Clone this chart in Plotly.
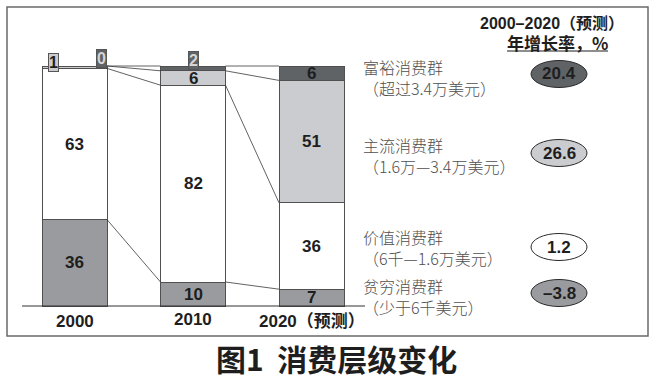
import plotly.graph_objects as go

# ---------------- data ----------------
years = ["2000", "2010", "2020（预测）"]
groups = ["贫穷消费群", "价值消费群", "主流消费群", "富裕消费群"]  # bottom -> top
group_ranges = ["（少于6千美元）", "（6千—1.6万美元）", "（1.6万—3.4万美元）", "（超过3.4万美元）"]
poor = [36, 10, 7]
value = [63, 82, 36]
mainstream = [1, 6, 51]
affluent = [0, 2, 6]
growth_labels = ["–3.8", "1.2", "26.6", "20.4"]
header1 = "2000–2020（预测）"
header2 = "年增长率，%"
title = "图1  消费层级变化"

series = [poor, value, mainstream, affluent]
colors = ["#9a9b9e", "#ffffff", "#cbcccf", "#5f6366"]

W, H = 652, 380
x_unit = 118.5
x_first = 74.5
x0 = -x_first / x_unit
x1 = x0 + W / x_unit
bw = 65 / x_unit
base_px = 306
y_unit = 2.4
y0 = -(H - base_px) / y_unit
y1 = base_px / y_unit


def px(x):
    return x / W


def py(y):
    return 1 - y / H


NUM_FONT = "Liberation Sans, Arial, Noto Sans CJK SC"
CJK_FONT = "Noto Sans CJK SC, Liberation Sans"


def ann(**kw):
    kw.setdefault("showarrow", False)
    kw.setdefault("xanchor", "center")
    kw.setdefault("yanchor", "middle")
    return kw


fig = go.Figure()
xs = list(range(len(years)))
for s, g, c in zip(series, groups, colors):
    fig.add_trace(go.Bar(
        x=xs, y=s, name=g, width=bw,
        marker=dict(color=c, line=dict(color="#505050", width=1)),
        hoverinfo="name+y", showlegend=False,
    ))

shapes = []
annotations = []

cums = []
run = [0] * len(years)
for s in series:
    run = [r + v for r, v in zip(run, s)]
    cums.append(list(run))

for k in range(len(series)):
    for i in range(len(years) - 1):
        shapes.append(dict(type="line", xref="x", yref="y",
                           x0=i + bw / 2, y0=cums[k][i],
                           x1=i + 1 - bw / 2, y1=cums[k][i + 1],
                           line=dict(color="#3a3a3a", width=0.8)))

for k, s in enumerate(series):
    for i, v in enumerate(s):
        below = cums[k][i] - v
        if v <= 2:
            # segment too thin for its label: boxed label at the bar top
            if i == 0 and k == 2:
                ax, ay = i - bw / 2 + 0.1, 101.3
            elif i == 0:
                ax, ay = i + bw / 2 - 0.045, 103.2
            else:
                ax, ay = i, 102.2
            annotations.append(ann(
                x=ax, y=ay, xref="x", yref="y", text=str(v),
                font=dict(family=NUM_FONT, size=16,
                          color="#1e1e1e" if k == 2 else "#d5d5d5", weight="bold"),
                bgcolor=colors[k], bordercolor="#555555", borderwidth=1, borderpad=0))
        else:
            annotations.append(ann(
                x=i, y=below + v / 2, xref="x", yref="y", text=str(v),
                font=dict(family=NUM_FONT, size=17, color="#1e1e1e", weight="bold")))

tick_y = [321, 319, 321]
for i, (yr, ty) in enumerate(zip(years, tick_y)):
    annotations.append(ann(x=i, y=py(ty), xref="x", yref="paper", text=yr,
                           font=dict(family=NUM_FONT, size=17, color="#1e1e1e", weight="bold")))

shapes.append(dict(type="line", xref="paper", yref="y", x0=px(22), x1=px(365), y0=0, y1=0,
                   line=dict(color="#333333", width=1.2)))

shapes.append(dict(type="rect", xref="paper", yref="paper", x0=px(7), x1=px(648), y0=py(336), y1=py(7),
                   line=dict(color="#6a6a6a", width=1.5)))

label_y = [296, 247, 155, 78]
ell_y = [293, 247, 153, 74]
for k in range(len(groups)):
    annotations.append(ann(x=px(361), y=py(label_y[k]), xref="paper", yref="paper", xanchor="left",
                           align="left", text=groups[k] + "<br>" + group_ranges[k],
                           font=dict(family=CJK_FONT, size=16, color="#505050", weight=300)))
    cy = ell_y[k]
    shapes.append(dict(type="circle", xref="paper", yref="paper",
                       x0=px(531), x1=px(587), y0=py(cy + 13.5), y1=py(cy - 13.5),
                       fillcolor=colors[k], line=dict(color="#2a2a2a", width=1)))
    annotations.append(ann(x=px(559), y=py(cy), xref="paper", yref="paper", text=growth_labels[k],
                           font=dict(family=NUM_FONT, size=17, color="#1e1e1e", weight="bold")))

annotations.append(ann(x=px(626), y=py(24), xref="paper", yref="paper", xanchor="right",
                       text=header1, font=dict(family=NUM_FONT, size=16, color="#1e1e1e", weight="bold")))
annotations.append(ann(x=px(557), y=py(42), xref="paper", yref="paper",
                       text=header2, font=dict(family=CJK_FONT, size=17, color="#1e1e1e", weight="bold")))
shapes.append(dict(type="line", xref="paper", yref="paper", x0=px(507), x1=px(608), y0=py(51), y1=py(51),
                   line=dict(color="#1e1e1e", width=1.2)))

annotations.append(ann(x=px(336), y=py(358), xref="paper", yref="paper", text=title,
                       font=dict(family=CJK_FONT, size=30, color="#1e1e1e", weight="bold")))

fig.update_layout(
    width=W, height=H, margin=dict(l=0, r=0, t=0, b=0),
    paper_bgcolor="white", plot_bgcolor="white",
    barmode="stack",
    xaxis=dict(range=[x0, x1], visible=False, fixedrange=True),
    yaxis=dict(range=[y0, y1], visible=False, fixedrange=True),
    shapes=shapes, annotations=annotations,
)

fig.write_html("out.html", config={"displayModeBar": False},
               post_script="document.body.style.margin='0';document.body.style.overflow='hidden';")
